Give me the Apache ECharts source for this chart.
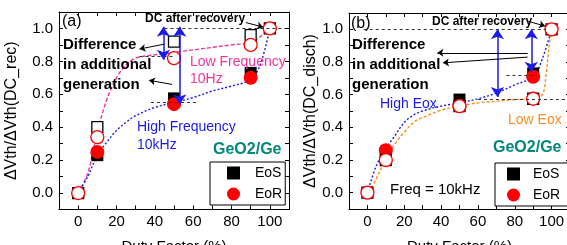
<!DOCTYPE html>
<html>
<head>
<meta charset="utf-8">
<script src="https://cdn.jsdelivr.net/npm/echarts@6/dist/echarts.min.js"></script>
<style>
html, body { margin: 0; padding: 0; background: #fff; }
#chart { width: 567px; height: 245px; }
</style>
</head>
<body>
<div id="chart"></div>
<script>
// ticks
var xTickLabels = [0, 20, 40, 60, 80, 100];
var xTickMarks = [0, 10, 20, 30, 40, 50, 60, 70, 80, 90, 100];
var yTickLabels = [0, 0.2, 0.4, 0.6, 0.8, 1.0];
var yTickMarks = [0, 0.1, 0.2, 0.3, 0.4, 0.5, 0.6, 0.7, 0.8, 0.9, 1.0];

// duty factors of the measured points
var dutyFilled = [10, 50, 90];
var dutyOpen = [0, 10, 50, 90, 100];

// panel (a): high frequency (filled) / low frequency (open)
var aHighEoS = [0.23, 0.575, 0.73];
var aHighEoR = [0.25, 0.54, 0.70];
var aLowEoS = [0, 0.40, 0.92, 0.96, 1.0];
var aLowEoR = [0, 0.34, 0.82, 0.90, 1.0];

// panel (b): high Eox (filled) / low Eox (open)
var bHighEoS = [0.24, 0.57, 0.73];
var bHighEoR = [0.26, 0.53, 0.71];
var bLowEoS = [0, 0.20, 0.53, 0.575, 1.0];
var bLowEoR = [0, 0.20, 0.53, 0.575, 1.0];

// guide curves
var fitX = [0, 5, 10, 15, 20, 25, 30, 40, 50, 60, 70, 80, 90, 95, 100];
var aLowFit = [0, 0.12, 0.37, 0.57, 0.70, 0.78, 0.82, 0.84, 0.855, 0.87, 0.885, 0.90, 0.915, 0.95, 1.0];
var aHighFit = [0, 0.10, 0.23, 0.31, 0.38, 0.43, 0.47, 0.52, 0.55, 0.58, 0.62, 0.65, 0.69, 0.78, 1.0];
var bHighFit = [0, 0.17, 0.27, 0.35, 0.43, 0.475, 0.50, 0.53, 0.55, 0.575, 0.61, 0.66, 0.71, 0.82, 1.0];
var bLowFitX = [2, 5, 10, 15, 20, 25, 30, 40, 50, 60, 70, 80, 90, 95, 97, 98.5, 100];
var bLowFit = [0.03, 0.09, 0.21, 0.30, 0.37, 0.43, 0.46, 0.505, 0.53, 0.55, 0.56, 0.57, 0.575, 0.60, 0.72, 0.88, 1.0];

var FONT = 'Liberation Sans, Arial, sans-serif';
var BLUE = '#1a1aee';
var PINK = '#f0359a';
var ORANGE = '#ff8a1c';
var TEAL = '#00897b';

function pairs(xs, ys) {
    return xs.map(function(x, i) { return [x, ys[i]]; });
}

function xAxisFor(gi, pos, labels) {
    return {
        type: 'value', gridIndex: gi, position: pos, min: -10, max: 110,
        name: labels ? 'Duty Factor (%)' : '',
        nameLocation: 'middle', nameGap: 30,
        nameTextStyle: { fontFamily: FONT, fontSize: 15, color: '#000' },
        axisLine: { show: true, onZero: false, lineStyle: { color: '#000', width: 1 } },
        axisTick: { show: true, inside: true, length: 4, customValues: xTickMarks, lineStyle: { color: '#000' } },
        axisLabel: { show: labels, customValues: xTickLabels, fontFamily: FONT, fontSize: 15, color: '#000', margin: 5 },
        splitLine: { show: false }
    };
}

function yAxisFor(gi, pos, name, gap) {
    return {
        type: 'value', gridIndex: gi, position: pos, min: -0.1, max: 1.1,
        name: name, nameLocation: 'middle', nameGap: gap,
        nameTextStyle: { fontFamily: FONT, fontSize: 16, color: '#000' },
        axisLine: { show: true, onZero: false, lineStyle: { color: '#000', width: 1 } },
        axisTick: { show: true, inside: true, length: 4, customValues: yTickMarks, lineStyle: { color: '#000' } },
        axisLabel: {
            show: !!name, customValues: yTickLabels, fontFamily: FONT, fontSize: 15, color: '#000', margin: 6,
            formatter: function(v) { return v.toFixed(1); }
        },
        splitLine: { show: false }
    };
}

function fitLine(gi, xs, ys, color, dash, marks) {
    return {
        type: 'line', xAxisIndex: gi * 2, yAxisIndex: gi * 2, data: pairs(xs, ys),
        smooth: 0.35, symbol: 'none', silent: true, z: 1,
        lineStyle: { color: color, width: 1.4, type: dash },
        markLine: marks ? { silent: true, animation: false, label: { show: false }, data: marks } : undefined
    };
}

function dots(gi, name, xs, ys, shape, size, fill, stroke) {
    return {
        type: 'scatter', name: name, xAxisIndex: gi * 2, yAxisIndex: gi * 2, data: pairs(xs, ys),
        symbol: shape, symbolSize: size, silent: true, z: 3,
        itemStyle: { color: fill, borderColor: stroke, borderWidth: stroke ? 1.3 : 0, opacity: 1 }
    };
}

// annotation helpers (data coordinates)
function dashed(x1, x2, y) {
    return [{ coord: [x1, y], symbol: 'none' },
            { coord: [x2, y], symbol: 'none', lineStyle: { color: '#333', width: 1, type: [3, 3] } }];
}
function dblArrow(x, y1, y2) {
    return [{ coord: [x, y1], symbol: 'arrow', symbolSize: 10 },
            { coord: [x, y2], symbol: 'arrow', symbolSize: 10, lineStyle: { color: BLUE, width: 1.5, type: 'solid' } }];
}
function arrow(x1, y1, x2, y2) {
    return [{ coord: [x1, y1], symbol: 'none' },
            { coord: [x2, y2], symbol: 'arrow', symbolSize: 6, lineStyle: { color: '#000', width: 1, type: 'solid' } }];
}

var marksA = [
    dashed(45, 108, 1.0), dashed(32, 50, 0.83), dashed(38, 63, 0.55),
    dblArrow(44.5, 1.01, 0.81), dblArrow(53, 1.01, 0.54),
    arrow(45, 0.905, 32, 0.875), arrow(49, 0.66, 37, 0.685),
    arrow(87.5, 1.036, 96.5, 1.008)
];
var marksB = [
    dashed(-2, 97, 1.0), dashed(75.5, 92, 0.72), dashed(60, 108, 0.575),
    dblArrow(70.6, 1.0, 0.585), dblArrow(89, 1.0, 0.74),
    arrow(87, 0.856, 38, 0.856), arrow(87, 0.83, 41, 0.795),
    arrow(87, 1.05, 96.5, 1.02)
];

function txt(x, y, s, size, color, bold) {
    return {
        type: 'text', x: x, y: y, z: 20, silent: true,
        style: { text: s, fill: color, font: (bold ? 'bold ' : '') + size + 'px ' + FONT, verticalAlign: 'middle' }
    };
}

function legendAt(left, top, pad, textPad) {
    return {
        left: left, top: top, orient: 'vertical', selectedMode: false,
        itemWidth: 13, itemHeight: 13, itemGap: 7, padding: pad,
        borderColor: '#000', borderWidth: 1, borderRadius: 0, backgroundColor: '#fff',
        textStyle: { fontFamily: FONT, fontSize: 14, color: '#000', padding: [0, 0, 0, textPad] },
        data: [{ name: 'EoS', icon: 'rect' }, { name: 'EoR', icon: 'circle' }]
    };
}

var chart = echarts.init(document.getElementById('chart'));

chart.setOption({
    animation: false,
    grid: [
        { left: 59, top: 12, width: 230, height: 197.5, outerBoundsMode: 'none', containLabel: false },
        { left: 349, top: 13, width: 221, height: 196, outerBoundsMode: 'none', containLabel: false }
    ],
    xAxis: [xAxisFor(0, 'bottom', true), xAxisFor(0, 'top', false),
            xAxisFor(1, 'bottom', true), xAxisFor(1, 'top', false)],
    yAxis: [yAxisFor(0, 'left', '\u0394Vth/\u0394Vth(DC_rec)', 39), yAxisFor(0, 'right', '', 0),
            yAxisFor(1, 'left', '\u0394Vth/\u0394Vth(DC_disch)', 27), yAxisFor(1, 'right', '', 0)],
    legend: [legendAt(210, 162, [4, 3, 4, 17], 10), legendAt(495, 163, [4, 10, 4, 12], 8)],
    series: [
        fitLine(0, fitX, aLowFit, PINK, [4, 2], marksA),
        fitLine(0, fitX, aHighFit, BLUE, [2, 2]),
        dots(0, 'EoS', dutyFilled, aHighEoS, 'rect', 12, '#000'),
        dots(0, 'EoR', dutyFilled, aHighEoR, 'circle', 14, '#ff0000'),
        dots(0, 'EoS open', dutyOpen, aLowEoS, 'rect', 11, '#fff', '#000'),
        dots(0, 'EoR open', dutyOpen, aLowEoR, 'circle', 13, '#fff', '#ff0000'),

        fitLine(1, bLowFitX, bLowFit, ORANGE, [3, 2], marksB),
        fitLine(1, fitX, bHighFit, BLUE, [2, 2]),
        dots(1, 'EoS', dutyFilled, bHighEoS, 'rect', 12, '#000'),
        dots(1, 'EoR', dutyFilled, bHighEoR, 'circle', 14, '#ff0000'),
        dots(1, 'EoS open', dutyOpen, bLowEoS, 'rect', 11, '#fff', '#000'),
        dots(1, 'EoR open', dutyOpen, bLowEoR, 'circle', 13, '#fff', '#ff0000')
    ],
    graphic: [
        txt(62, 22, '(a)', 16, '#000'),
        txt(145, 19, 'DC after recovery', 12, '#000', true),
        txt(63, 45, 'Difference', 15, '#000', true),
        txt(63, 65, 'in additional', 15, '#000', true),
        txt(63, 85, 'generation', 15, '#000', true),
        txt(190, 62, 'Low Frequency', 14, PINK),
        txt(190, 79, '10Hz', 14, PINK),
        txt(137, 127, 'High Frequency', 14, BLUE),
        txt(137, 145, '10kHz', 14, BLUE),
        txt(213, 150, 'GeO2/Ge', 16, TEAL, true),

        txt(351, 24, '(b)', 16, '#000'),
        txt(432, 22, 'DC after recovery', 12, '#000', true),
        txt(352, 45, 'Difference', 15, '#000', true),
        txt(352, 65, 'in additional', 15, '#000', true),
        txt(352, 85, 'generation', 15, '#000', true),
        txt(380, 104, 'High Eox', 14, BLUE),
        txt(508, 120, 'Low Eox', 14, ORANGE),
        txt(493, 148, 'GeO2/Ge', 16, TEAL, true),
        txt(390, 190, 'Freq = 10kHz', 15, '#000')
    ]
});
</script>
</body>
</html>
